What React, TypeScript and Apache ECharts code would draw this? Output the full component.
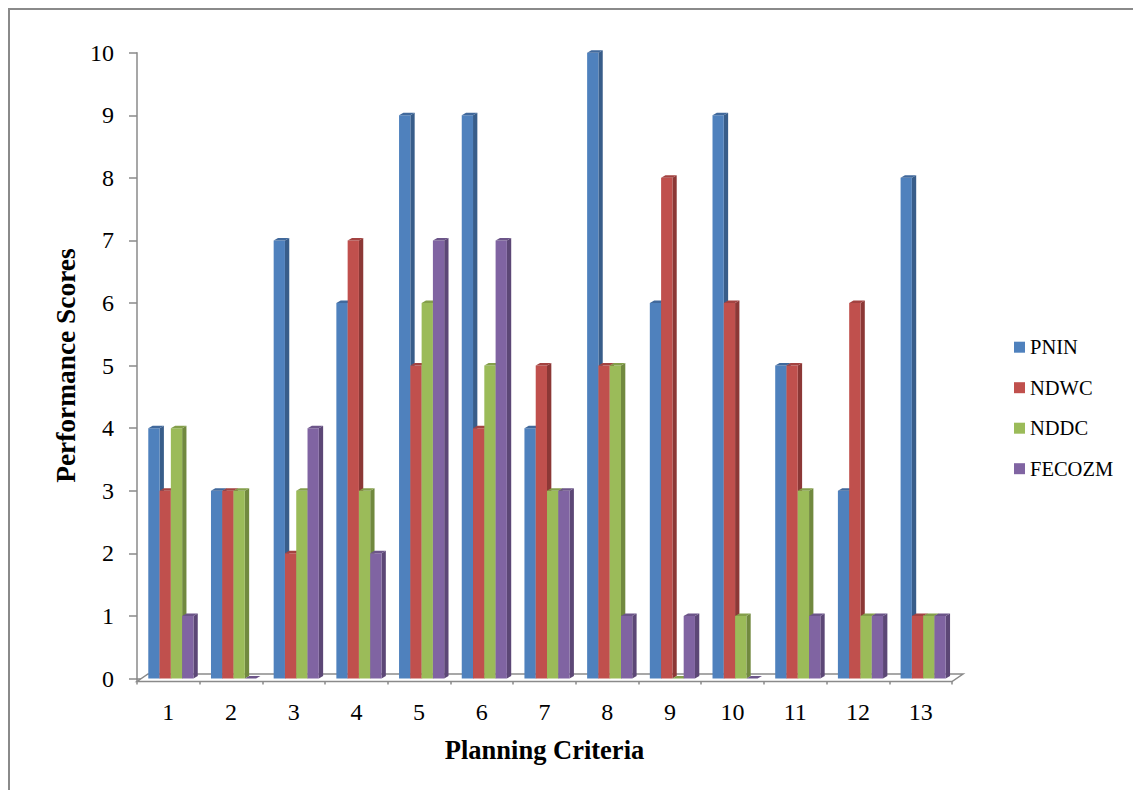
import React, { useEffect, useRef } from "react";
import * as echarts from "echarts";

const categories = ["1", "2", "3", "4", "5", "6", "7", "8", "9", "10", "11", "12", "13"];
const seriesNames = ["PNIN", "NDWC", "NDDC", "FECOZM"];
const pnin = [4, 3, 7, 6, 9, 9, 4, 10, 6, 9, 5, 3, 8];
const ndwc = [3, 3, 2, 7, 5, 4, 5, 5, 8, 6, 5, 6, 1];
const nddc = [4, 3, 3, 3, 6, 5, 3, 5, 0, 1, 3, 1, 1];
const fecozm = [1, 0, 4, 2, 7, 7, 3, 1, 1, 0, 1, 1, 1];
const seriesValues = [pnin, ndwc, nddc, fecozm];

const yMin = 0;
const yMax = 10;
const yInterval = 1;

const frontColors = ["#4F81BD", "#C0504D", "#9BBB59", "#8064A2"];
const sideColors = ["#385D8A", "#8C3836", "#71893F", "#5C4776"];
const topColors = ["#41699C", "#A34341", "#849F4B", "#6C5589"];

const FONT = '"Liberation Serif", "Times New Roman", serif';
const AXIS_GRAY = "#8a8a8a";

function makeBarRender(idx: number) {
  return (params: any, api: any) => {
    const cat = api.value(0);
    const v = api.value(1);
    const top = api.coord([cat, v]);
    const base = api.coord([cat, 0]);
    const band = api.size([1, 0])[0];
    const w = band * 0.18;
    const shift = band * 0.04;
    const x = top[0] - 2 * w + idx * w + shift;
    const yT = top[1];
    const yB = base[1];
    const dx = band * 0.069;
    const dy = 2.5;
    return {
      type: "group",
      children: [
        {
          type: "polygon",
          shape: { points: [[x + w, yT], [x + w + dx, yT - dy], [x + w + dx, yB - dy], [x + w, yB]] },
          style: { fill: sideColors[idx] },
        },
        {
          type: "rect",
          shape: { x: x, y: yT, width: w, height: Math.max(0, yB - yT) },
          style: { fill: frontColors[idx] },
        },
        {
          type: "polygon",
          shape: { points: [[x, yT], [x + dx, yT - dy], [x + w + dx, yT - dy], [x + w, yT]] },
          style: { fill: topColors[idx] },
        },
      ],
    };
  };
}

function floorRender(params: any, api: any) {
  const band = api.size([1, 0])[0];
  const c0 = api.coord([0, 0]);
  const L = c0[0] - band / 2;
  const R = L + band * categories.length;
  const front = c0[1] + 3;
  const back = c0[1] - 4.5;
  const dx = 11;
  return {
    type: "polygon",
    shape: { points: [[L, front], [R, front], [R + dx, back], [L + dx, back]] },
    style: { fill: "#ffffff", stroke: AXIS_GRAY, lineWidth: 1.5 },
  };
}

export default function App() {
  const ref = useRef<HTMLDivElement>(null);
  useEffect(() => {
    if (!ref.current) return;
    const chart = echarts.init(ref.current, null, { renderer: "svg" });
    const barSeries = seriesNames.map((name, i) => ({
      type: "custom",
      name,
      z: 3,
      renderItem: makeBarRender(i),
      itemStyle: { color: frontColors[i] },
      encode: { x: 0, y: 1 },
      data: categories.map((c, j) => [j, seriesValues[i][j]]),
    }));
    chart.setOption({
      animation: false,
      backgroundColor: "#ffffff",
      grid: { left: 129, right: 189, top: 44.7, bottom: 119.5, containLabel: false },
      legend: {
        data: seriesNames,
        orient: "vertical",
        left: 1006,
        top: 328.7,
        padding: 0,
        icon: "rect",
        itemWidth: 11,
        itemHeight: 11,
        itemGap: 19.5,
        textStyle: { fontFamily: FONT, fontSize: 20.5, color: "#000", lineHeight: 20 },
      },
      xAxis: {
        type: "category",
        data: categories,
        offset: 3,
        name: "Planning Criteria",
        nameLocation: "middle",
        nameGap: 55,
        nameTextStyle: { fontFamily: FONT, fontSize: 26.5, fontWeight: "bold", color: "#000" },
        axisLine: { show: true, lineStyle: { color: AXIS_GRAY, width: 1.5 } },
        axisTick: { show: true, length: 6, lineStyle: { color: AXIS_GRAY, width: 1.5 } },
        axisLabel: { fontFamily: FONT, fontSize: 24, color: "#000", margin: 18 },
        splitLine: { show: false },
      },
      yAxis: {
        type: "value",
        min: yMin,
        max: yMax,
        interval: yInterval,
        name: "Performance Scores",
        nameLocation: "middle",
        nameGap: 46,
        nameTextStyle: { fontFamily: FONT, fontSize: 27.4, fontWeight: "bold", color: "#000" },
        axisLine: { show: true, lineStyle: { color: AXIS_GRAY, width: 1.5 } },
        axisTick: { show: true, length: 8, lineStyle: { color: AXIS_GRAY, width: 1.5 } },
        axisLabel: { fontFamily: FONT, fontSize: 24, color: "#000", margin: 23 },
        splitLine: { show: false },
      },
      graphic: [
        { type: "line", shape: { x1: 0, y1: 1, x2: 1133, y2: 1 }, style: { stroke: AXIS_GRAY, lineWidth: 2 }, silent: true },
        { type: "line", shape: { x1: 1, y1: 0, x2: 1, y2: 790 }, style: { stroke: AXIS_GRAY, lineWidth: 2 }, silent: true },
      ],
      series: [
        {
          type: "custom",
          name: "floor",
          z: 1,
          renderItem: floorRender,
          encode: { x: 0, y: 1 },
          data: [[0, 0]],
          silent: true,
        },
        ...barSeries,
      ],
    });
    return () => chart.dispose();
  }, []);
  return <div ref={ref} style={{ width: 1133, height: 790, marginBottom: -8 }} />;
}
